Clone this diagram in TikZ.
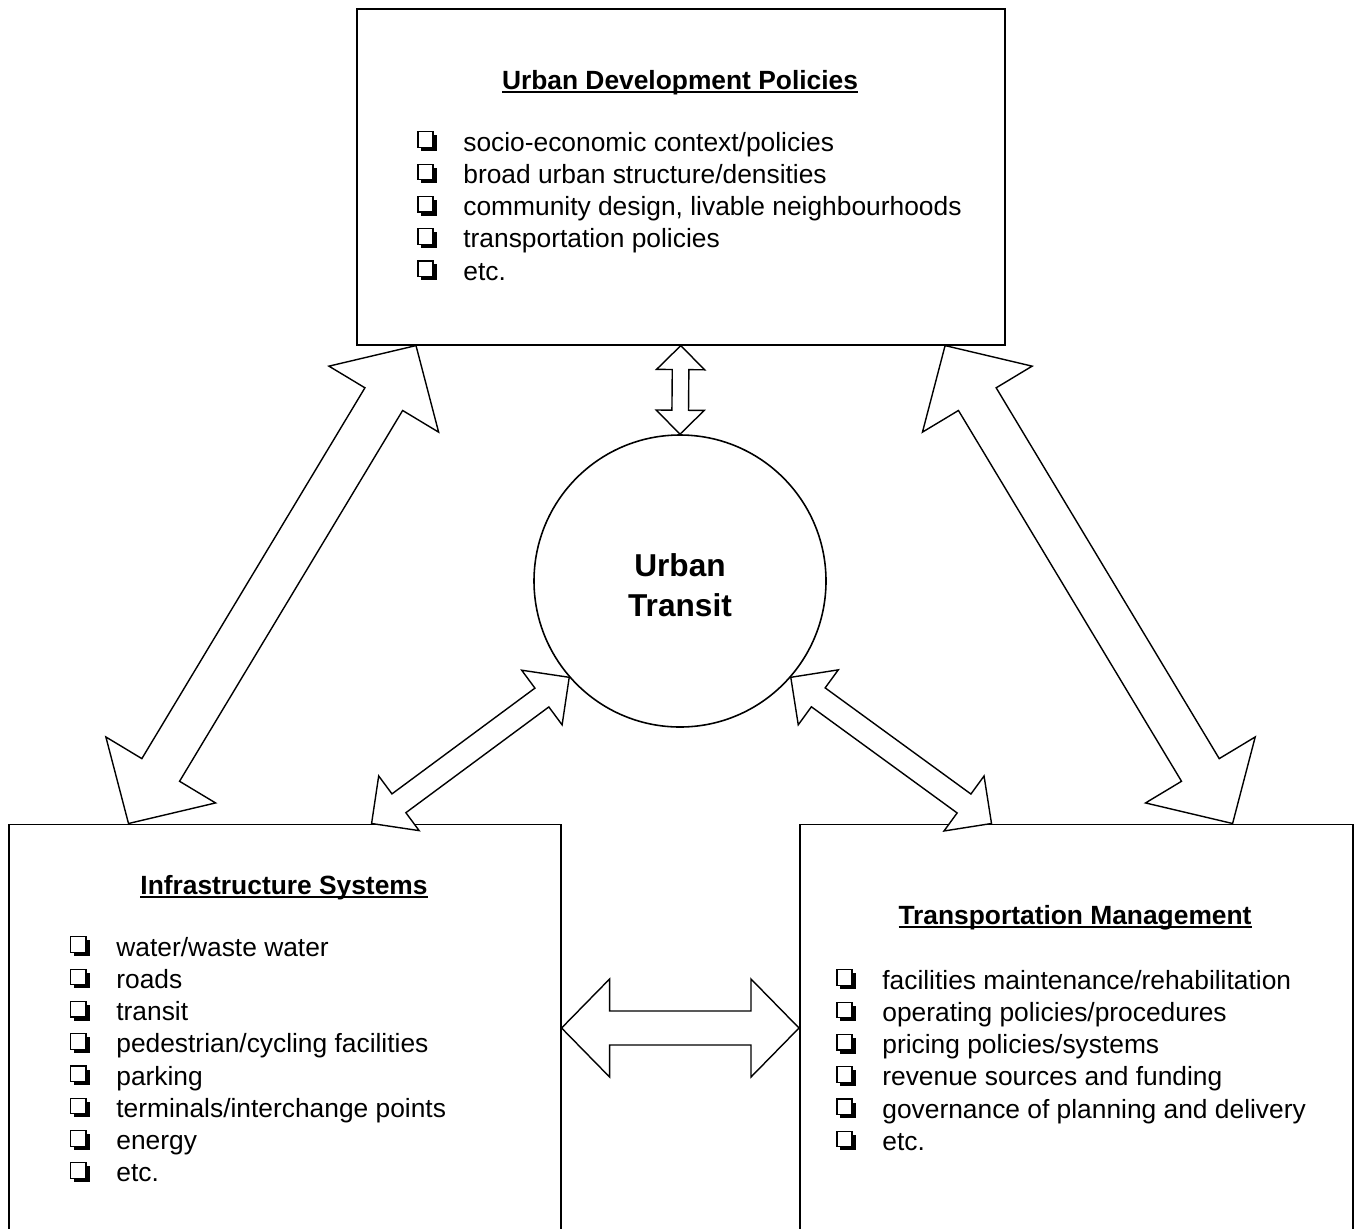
\documentclass[tikz,border=0pt]{standalone}
\usepackage{fontspec}
\setmainfont{Liberation Sans}
\usetikzlibrary{calc}
\tikzstyle{panel}=[rectangle,draw=black,line width=0.9pt,inner sep=0pt,anchor=north west]
\tikzstyle{hub}=[circle,draw=black,line width=0.9pt,inner sep=0pt,minimum size=5.84cm]
\tikzstyle{hubtext}=[align=center,inner sep=0pt,font=\bfseries\fontsize{18}{22.7}\selectfont]
\tikzstyle{title}=[anchor=base,inner sep=0pt,font=\bfseries\fontsize{15}{18.37}\selectfont]
\tikzstyle{items}=[anchor=base west,inner sep=0pt,font=\fontsize{15}{18.37}\selectfont]
\tikzstyle{blockarrow}=[draw=black,fill=white,line width=0.8pt,line join=miter]
% shadowed check box
\newsavebox{\chkbox}
\sbox{\chkbox}{\tikz[line width=0.65pt]{\fill (2pt,-0.3pt) rectangle (10.6pt,8.6pt);
  \draw[fill=white] (0pt,1.7pt) rectangle (8.6pt,10.6pt);}}
\newcommand{\chk}{\makebox[0.92cm][l]{\usebox{\chkbox}}}
\newcommand{\heading}[1]{\setbox0\hbox{#1}\rlap{\rule[-2.2pt]{\wd0}{1.1pt}}\box0}
% double block arrow: from, to, shaft half width, head length, head half width
\newcommand{\dblarrow}[5]{%
  \draw[blockarrow] (#1)
    -- ($(#1)!#4!(#2)!#5!90:(#2)$) -- ($(#1)!#4!(#2)!#3!90:(#2)$)
    -- ($(#2)!#4!(#1)!#3!90:(#2)$) -- ($(#2)!#4!(#1)!#5!90:(#2)$)
    -- (#2)
    -- ($(#2)!#4!(#1)!#5!-90:(#2)$) -- ($(#2)!#4!(#1)!#3!-90:(#2)$)
    -- ($(#1)!#4!(#2)!#3!-90:(#2)$) -- ($(#1)!#4!(#2)!#5!-90:(#2)$)
    -- cycle;}

\begin{document}
\begin{tikzpicture}
    \useasboundingbox (0,0) rectangle (27.08,-24.56);
    \clip (0,0) rectangle (27.08,-24.56);
    % boxes
    \node [panel,minimum width=12.96cm,minimum height=6.72cm] (policies) at (7.12,-0.16) {};
    \node [panel,minimum width=11.04cm,minimum height=9cm] (infra) at (0.16,-16.47) {};
    \node [panel,minimum width=11.06cm,minimum height=9cm] (mgmt) at (15.98,-16.47) {};
    \node [hub] (transit) at (13.6,-11.62) {};
    \node [hubtext] (transitText) at (13.6,-11.7) {Urban\\Transit};
    % titles
    \node [title] (policiesTitle) at (13.6,-1.79) {\heading{Urban Development Policies}};
    \node [title] (infraTitle) at (5.68,-17.89) {\heading{Infrastructure Systems}};
    \node [title] (mgmtTitle) at (21.5,-18.49) {\heading{Transportation Management}};
    % lists
    \node [items] (policiesList) at (8.34,-3.02) {\begin{tabular}[t]{@{}l@{}}
        \chk socio-economic context/policies\\
        \chk broad urban structure/densities\\
        \chk community design, livable neighbourhoods\\
        \chk transportation policies\\
        \chk etc.
      \end{tabular}};
    \node [items] (infraList) at (1.4,-19.12) {\begin{tabular}[t]{@{}l@{}}
        \chk water/waste water\\
        \chk roads\\
        \chk transit\\
        \chk pedestrian/cycling facilities\\
        \chk parking\\
        \chk terminals/interchange points\\
        \chk energy\\
        \chk etc.
      \end{tabular}};
    \node [items] (mgmtList) at (16.72,-19.78) {\begin{tabular}[t]{@{}l@{}}
        \chk facilities maintenance/rehabilitation\\
        \chk operating policies/procedures\\
        \chk pricing policies/systems\\
        \chk revenue sources and funding\\
        \chk governance of planning and delivery\\
        \chk etc.
      \end{tabular}};
    % arrow ends
    \coordinate (polL) at ($(policies.south west)+(1.2,0)$);
    \coordinate (polR) at ($(policies.south east)+(-1.21,0)$);
    \coordinate (infT) at ($(infra.north west)+(2.41,0)$);
    \coordinate (infR) at ($(infra.north east)+(-3.8,0)$);
    \coordinate (infE) at ($(infra.north east)+(0,-4.09)$);
    \coordinate (mgmT) at ($(mgmt.north east)+(-2.42,0)$);
    \coordinate (mgmL) at ($(mgmt.north west)+(3.85,0)$);
    \coordinate (mgmW) at ($(mgmt.north west)+(0,-4.09)$);
    % arrows
    \dblarrow{polL}{infT}{0.44cm}{1.25cm}{1.28cm}
    \dblarrow{polR}{mgmT}{0.44cm}{1.25cm}{1.28cm}
    \dblarrow{policies.south}{transit.north}{0.166cm}{0.48cm}{0.48cm}
    \dblarrow{transit.221}{infR}{0.234cm}{0.68cm}{0.68cm}
    \dblarrow{transit.319}{mgmL}{0.234cm}{0.68cm}{0.68cm}
    \dblarrow{infE}{mgmW}{0.34cm}{0.96cm}{0.98cm}
\end{tikzpicture}
\end{document}
